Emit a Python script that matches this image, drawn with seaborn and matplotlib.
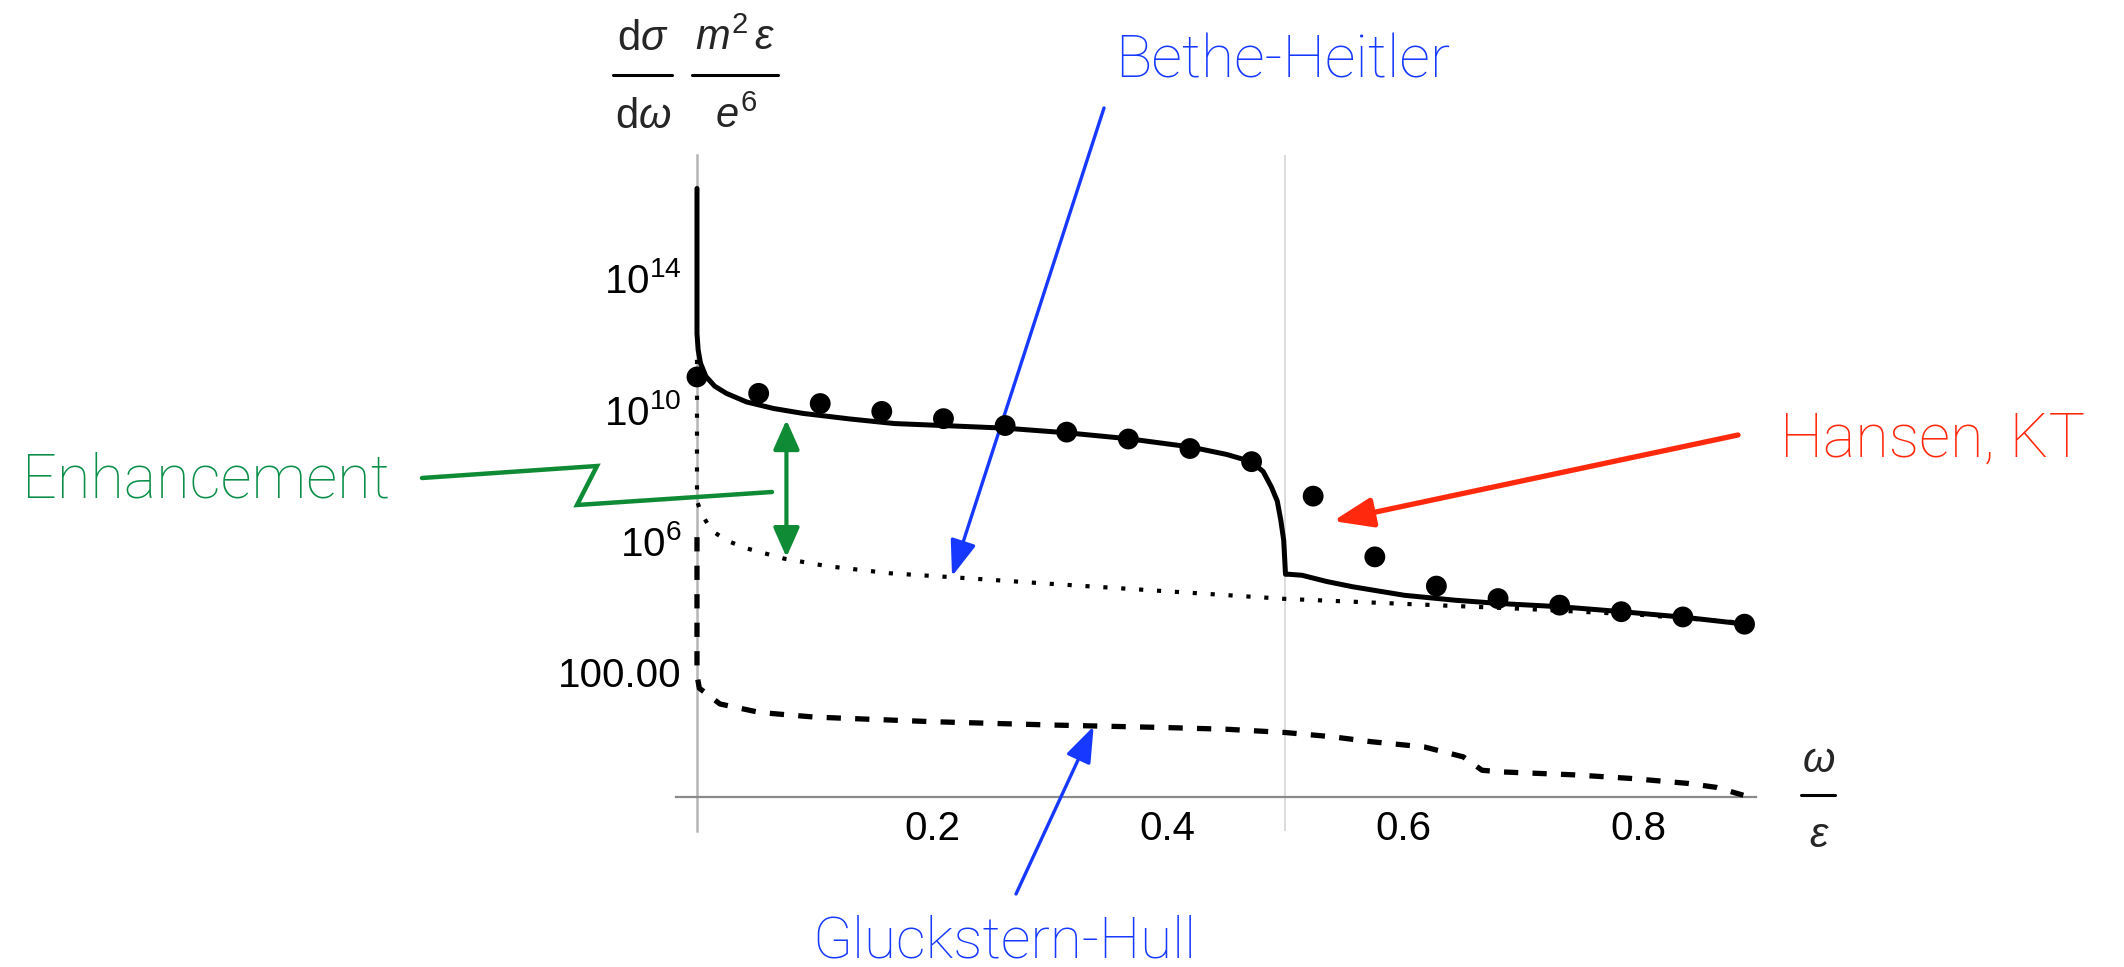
import numpy as np
import matplotlib
matplotlib.use('Agg')
import matplotlib.pyplot as plt
import seaborn as sns
from matplotlib.ticker import NullFormatter
from matplotlib.lines import Line2D

sns.set_style('white')
plt.rcParams['font.family'] = ['Liberation Sans', 'DejaVu Sans']
plt.rcParams['mathtext.fontset'] = 'custom'
plt.rcParams['mathtext.rm'] = 'Liberation Sans'
plt.rcParams['mathtext.it'] = 'Liberation Sans:italic'
plt.rcParams['mathtext.bf'] = 'Liberation Sans:bold'

# x = omega/epsilon ; *_exp = log10 of d(sigma)/d(omega) m^2 eps / e^6
solid_x = [0.0, 0.0, 0.001, 0.003, 0.0075, 0.015, 0.025, 0.042, 0.065, 0.09, 0.13, 0.168,
           0.209, 0.262, 0.314, 0.366, 0.419, 0.45, 0.471, 0.481, 0.488, 0.493, 0.496,
           0.4985, 0.5, 0.503, 0.514, 0.535, 0.557, 0.601, 0.644, 0.682, 0.734, 0.786,
           0.839, 0.891]
solid_exp = [16.72, 12.3, 11.8, 11.4, 11.0, 10.7, 10.48, 10.22, 10.02, 9.87, 9.7, 9.56,
             9.5, 9.42, 9.28, 9.1, 8.85, 8.62, 8.40, 8.1, 7.63, 7.2, 6.62,
             6.0, 4.97, 4.97, 4.94, 4.75, 4.59, 4.33, 4.18, 4.08, 3.98, 3.83,
             3.66, 3.45]

hansen_x = [0.0, 0.0524, 0.1047, 0.157, 0.2094, 0.2618, 0.3141, 0.3665, 0.4188,
            0.4712, 0.5235, 0.5759, 0.6282, 0.6806, 0.7329, 0.7853, 0.8376, 0.89]
hansen_exp = [10.98, 10.48, 10.17, 9.93, 9.71, 9.50, 9.30, 9.09, 8.80,
              8.40, 7.35, 5.50, 4.61, 4.23, 4.03, 3.83, 3.67, 3.45]

bh_x = [0.0, 0.0, 0.004, 0.0126, 0.025, 0.042, 0.0736, 0.11, 0.164, 0.217, 0.3,
        0.4, 0.5, 0.6, 0.7, 0.8, 0.886]
bh_exp = [11.5, 7.2, 6.8, 6.3, 6.0, 5.76, 5.45, 5.22, 5.0, 4.88, 4.68,
          4.45, 4.22, 4.07, 3.92, 3.74, 3.50]

gh_x = [0.0, 0.0, 0.002, 0.0195, 0.0535, 0.1, 0.2, 0.3, 0.4, 0.45, 0.5, 0.54, 0.573,
        0.618, 0.651, 0.667, 0.684, 0.746, 0.794, 0.842, 0.866, 0.889]
gh_exp = [6.1, 1.9, 1.5, 1.02, 0.76, 0.62, 0.48, 0.38, 0.3, 0.25, 0.15, 0.02, -0.13,
          -0.29, -0.59, -1.0, -1.05, -1.14, -1.25, -1.40, -1.52, -1.76]

ytick_vals = [1e2, 1e6, 1e10, 1e14]
ytick_labels = ['100.00', '$10^{6}$', '$10^{10}$', '$10^{14}$']
yminor_vals = [1e-2, 1e0, 1e4, 1e8, 1e12, 1e16]
xtick_vals = [0, 0.2, 0.4, 0.6, 0.8]
xtick_labels = ['', '0.2', '0.4', '0.6', '0.8']
xminor_vals = [0.05, 0.1, 0.15, 0.25, 0.3, 0.35, 0.45, 0.5, 0.55, 0.65, 0.7, 0.75, 0.85, 0.9]

W, H = 2124, 967


def fig_xy(px, py):
    # pixel position measured from top-left -> figure fraction
    return px / W, 1 - py / H


def frac_bar(x0, x1, y):
    a, b = fig_xy(x0, y), fig_xy(x1, y)
    fig.add_artist(Line2D([a[0], b[0]], [a[1], b[1]], color='black', lw=2.2))


blue = '#1638ff'
red = '#ff2a0d'
green = '#0f8a35'
label_font = dict(family=['Roboto', 'DejaVu Sans'], fontweight='light')

fig = plt.figure(figsize=(W / 100, H / 100), dpi=100)
ax = fig.add_axes([675.8 / W, 1 - 830.7 / H, 1080.5 / W, 675.7 / H])
ax.set_yscale('log')
ax.set_xlim(-0.018, 0.9)
ax.set_ylim(10 ** -2.84, 10 ** 17.74)

ax.axvline(0.5, color='#d6d6d6', lw=1.2, zorder=0)

sns.lineplot(x=gh_x, y=10.0 ** np.array(gh_exp), ax=ax, color='black', lw=3.8,
             linestyle=(0, (2.7, 2.7)), sort=False, estimator=None, zorder=3)
sns.lineplot(x=bh_x, y=10.0 ** np.array(bh_exp), ax=ax, color='black', lw=3.0,
             linestyle=(0, (1, 3.3)), sort=False, estimator=None, zorder=3)
sns.lineplot(x=solid_x, y=10.0 ** np.array(solid_exp), ax=ax, color='black', lw=3.6,
             sort=False, estimator=None, zorder=4)
sns.scatterplot(x=hansen_x, y=10.0 ** np.array(hansen_exp), ax=ax, color='black',
                s=225, edgecolor='none', zorder=5)

for s in ['top', 'right']:
    ax.spines[s].set_visible(False)
ax.spines['left'].set_position(('data', 0))
ax.spines['bottom'].set_position(('data', 10 ** -1.82))
ax.spines['left'].set_color('#b5b5b5')
ax.spines['left'].set_linewidth(1.8)
ax.spines['bottom'].set_color('#8a8a8a')
ax.spines['bottom'].set_linewidth(1.6)
ax.spines['left'].set_zorder(1)
ax.spines['bottom'].set_zorder(1)

ax.set_yticks(ytick_vals)
ax.set_yticklabels(ytick_labels)
ax.set_yticks(yminor_vals, minor=True)
ax.yaxis.set_minor_formatter(NullFormatter())
ax.set_xticks(xtick_vals)
ax.set_xticklabels(xtick_labels)
ax.set_xticks(xminor_vals, minor=True)
ax.tick_params(axis='both', which='both', direction='in', color='#9a9a9a',
               labelcolor='black', labelsize=29)
ax.tick_params(axis='y', which='major', length=8, width=1.3, pad=11)
ax.tick_params(axis='y', which='minor', length=5, width=1.3)
ax.tick_params(axis='x', which='major', length=9.5, width=1.3, pad=9)
ax.tick_params(axis='x', which='minor', length=5, width=1.3)
ax.set_xlabel('')
ax.set_ylabel('')

# axis labels written as stacked fractions
frac_size = 30
fig.text(*fig_xy(643, 50), r'$\mathrm{d}\sigma$', ha='center', va='baseline', fontsize=frac_size)
fig.text(*fig_xy(643, 128), r'$\mathrm{d}\omega$', ha='center', va='baseline', fontsize=frac_size)
frac_bar(613, 672, 75)
fig.text(*fig_xy(735, 50), r'$m^{2}\,\epsilon$', ha='center', va='baseline', fontsize=frac_size)
fig.text(*fig_xy(736, 128), r'$e^{6}$', ha='center', va='baseline', fontsize=frac_size)
frac_bar(692, 778, 75)

fig.text(*fig_xy(1819, 772), r'$\omega$', ha='center', va='baseline', fontsize=frac_size)
fig.text(*fig_xy(1819, 847), r'$\epsilon$', ha='center', va='baseline', fontsize=frac_size)
frac_bar(1801, 1835, 795)

# annotations
fig.text(*fig_xy(22, 497), 'Enhancement', color='#0b8f48', ha='left', va='baseline',
         fontsize=44, **label_font)
fig.text(*fig_xy(1115, 78), 'Bethe-Heitler', color=blue, ha='left', va='baseline',
         fontsize=43.5, **label_font)
fig.text(*fig_xy(1780, 457), 'Hansen, KT', color=red, ha='left', va='baseline',
         fontsize=44, **label_font)
fig.text(*fig_xy(812, 957), 'Gluckstern-Hull', color=blue, ha='left', va='baseline',
         fontsize=42, **label_font)

zig = [(422, 478), (597, 466), (577, 505), (772, 492)]
fig.add_artist(Line2D([fig_xy(*p)[0] for p in zig], [fig_xy(*p)[1] for p in zig],
                      color=green, lw=3.2, solid_joinstyle='miter'))

ax.annotate('', xy=(0.076, 10 ** 5.49), xytext=(0.076, 10 ** 9.67),
            arrowprops=dict(arrowstyle='<|-|>,head_length=0.9,head_width=0.4', color=green,
                            lw=3, mutation_scale=20, shrinkA=0, shrinkB=0))
ax.annotate('', xy=(0.2167, 10 ** 4.91), xycoords='data',
            xytext=fig_xy(1104, 108), textcoords='figure fraction',
            arrowprops=dict(arrowstyle='-|>,head_length=1.1,head_width=0.4', color=blue,
                            lw=2.4, mutation_scale=20, shrinkA=0, shrinkB=0))
ax.annotate('', xy=(0.337, 10 ** 0.34), xycoords='data',
            xytext=fig_xy(1016, 894), textcoords='figure fraction',
            arrowprops=dict(arrowstyle='-|>,head_length=1.1,head_width=0.4', color=blue,
                            lw=2.4, mutation_scale=20, shrinkA=0, shrinkB=0))
ax.annotate('', xy=(0.5404, 10 ** 6.59), xycoords='data',
            xytext=fig_xy(1738, 435), textcoords='figure fraction',
            arrowprops=dict(arrowstyle='-|>,head_length=1.2,head_width=0.45', color=red,
                            lw=3.8, mutation_scale=20, shrinkA=0, shrinkB=0))

fig.savefig('out.png', dpi=100)
